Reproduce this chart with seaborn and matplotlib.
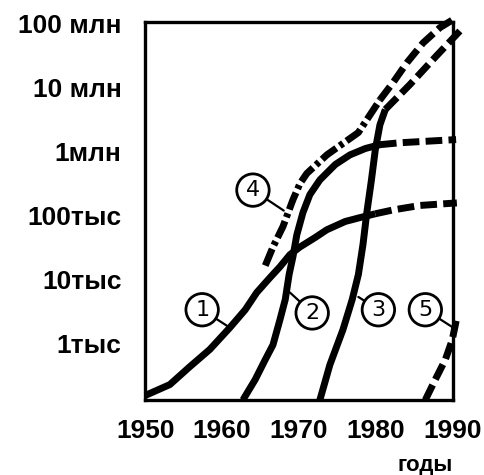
"""
Рост числа объектов по годам (логарифмическая шкала), кривые 1-5.
Output: out.png
"""
import numpy as np
import pandas as pd
import matplotlib
matplotlib.use("Agg")
import matplotlib.pyplot as plt
import seaborn as sns

sns.set_style("white")
plt.rcParams["font.family"] = ["Liberation Sans", "DejaVu Sans"]
plt.rcParams["text.color"] = "black"
plt.rcParams["axes.labelcolor"] = "black"

# --- data: years and log10 of the count ---
c1_years = [1950.0, 1953.2, 1955.8, 1958.4, 1961.0, 1963.0, 1964.5, 1966.2, 1967.5,
            1968.8, 1970.1, 1972.1, 1973.6, 1976.0, 1977.9, 1979.9]
c1_log = [2.19, 2.36, 2.64, 2.91, 3.25, 3.53, 3.80, 4.03, 4.20,
          4.39, 4.51, 4.66, 4.78, 4.91, 4.97, 5.03]
c1_fc_years = [1979.9, 1982.2, 1985.7, 1990.5]
c1_fc_log = [5.03, 5.09, 5.16, 5.20]

c2_years = [1962.7, 1964.3, 1965.6, 1966.6, 1967.5, 1968.2, 1968.7, 1969.2, 1969.7,
            1970.5, 1971.4, 1972.7, 1974.7, 1976.6, 1978.6, 1980.5]
c2_log = [2.12, 2.44, 2.75, 2.98, 3.37, 3.69, 4.08, 4.36, 4.70,
          5.05, 5.33, 5.56, 5.80, 5.95, 6.05, 6.11]
c2_fc_years = [1980.5, 1983.1, 1990.4]
c2_fc_log = [6.11, 6.14, 6.19]

c3_years = [1972.7, 1974.0, 1975.7, 1976.9, 1977.7, 1978.3, 1978.8, 1979.4, 1979.9,
            1980.5, 1981.2]
c3_log = [2.12, 2.67, 3.22, 3.69, 4.08, 4.55, 5.05, 5.56, 6.03, 6.42, 6.66]
c3_fc_years = [1981.2, 1984.4, 1987.7, 1991.3]
c3_fc_log = [6.66, 7.05, 7.48, 7.94]

c4_years = [1965.6, 1966.6, 1967.9, 1969.2, 1970.1, 1971.0, 1973.6, 1977.7, 1980.5]
c4_log = [4.22, 4.51, 4.83, 5.25, 5.50, 5.66, 5.95, 6.30, 6.81]
c4_fc_years = [1980.5, 1982.2, 1984.0, 1986.1, 1988.3, 1990.2]
c4_fc_log = [6.81, 7.08, 7.39, 7.70, 7.94, 8.08]

c5_years = [1986.4, 1987.7, 1989.0, 1989.9, 1990.5]
c5_log = [2.12, 2.44, 2.75, 3.06, 3.41]

y_ticks_log = [3, 4, 5, 6, 7, 8]
y_tick_labels = ["1тыс", "10тыс", "100тыс", "1млн", "10 млн", "100 млн"]
x_ticks = [1950, 1960, 1970, 1980, 1990]

# curve number, label position (year, log), leader end (year, log)
labels = [
    ("1", (1957.4, 3.53), (1961.0, 3.25)),
    ("2", (1971.7, 3.48), (1968.8, 3.80)),
    ("3", (1980.3, 3.53), (1977.7, 3.73)),
    ("4", (1964.0, 5.40), (1968.0, 5.08)),
    ("5", (1986.4, 3.53), (1989.9, 3.26)),
]

SOLID = "-"
DASHED = (0, (2.4, 0.9))
DASHDOT = (0, (2.6, 0.6, 0.6, 0.6))

segments = [
    (c1_years, c1_log, SOLID),
    (c1_fc_years, c1_fc_log, DASHED),
    (c2_years, c2_log, SOLID),
    (c2_fc_years, c2_fc_log, DASHED),
    (c3_years, c3_log, SOLID),
    (c3_fc_years, c3_fc_log, DASHED),
    (c4_years, c4_log, DASHDOT),
    (c4_fc_years, c4_fc_log, DASHED),
    (c5_years, c5_log, DASHED),
]


def main():
    fig = plt.figure(figsize=(4.84, 4.75), dpi=100)
    ax = fig.add_axes([0.300, 0.158, 0.636, 0.796])

    for yrs, lg, ls in segments:
        df = pd.DataFrame({"year": yrs, "value": 10.0 ** np.array(lg)})
        sns.lineplot(data=df, x="year", y="value", ax=ax, sort=False, estimator=None,
                     color="black", linewidth=5, linestyle=ls)
    for line in ax.get_lines():
        line.set_clip_on(False)
        line.set_solid_capstyle("butt")

    ax.set_yscale("log")
    ax.set_xlim(1950, 1990)
    ax.set_ylim(10 ** 2.12, 10 ** 8.03)
    ax.minorticks_off()
    ax.set_yticks([10.0 ** e for e in y_ticks_log])
    ax.set_yticklabels(y_tick_labels)
    ax.set_xticks(x_ticks)
    ax.set_xticklabels([str(x) for x in x_ticks])
    ax.tick_params(axis="both", direction="in", length=5, width=2.5,
                   color="black", labelcolor="black")
    ax.tick_params(axis="y", pad=17, labelsize=19)
    ax.tick_params(axis="x", pad=14, labelsize=19)
    for lab in ax.get_xticklabels() + ax.get_yticklabels():
        lab.set_fontweight("bold")
    for sp in ax.spines.values():
        sp.set_linewidth(2.4)
        sp.set_color("black")

    ax.set_xlabel("годы", loc="right", fontsize=16, fontweight="bold", labelpad=8)
    ax.set_ylabel("")

    for num, (lx, ly), (tx, ty) in labels:
        ax.annotate(num, xy=(tx, 10 ** ty), xytext=(lx, 10 ** ly),
                    ha="center", va="center", fontsize=16,
                    family=["DejaVu Sans"], annotation_clip=False,
                    bbox=dict(boxstyle="circle,pad=0.28", fc="white", ec="black", lw=2),
                    arrowprops=dict(arrowstyle="-", color="black", lw=1.6,
                                    shrinkA=0, shrinkB=0))

    fig.savefig("out.png", dpi=100)
    plt.close(fig)


if __name__ == "__main__":
    main()
